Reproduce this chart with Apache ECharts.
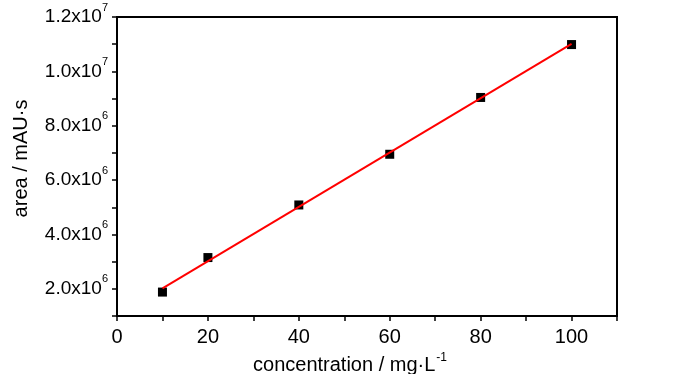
<!DOCTYPE html>
<html>
<head>
<meta charset="utf-8">
<script src="https://cdn.jsdelivr.net/npm/echarts@6/dist/echarts.min.js"></script>
<style>html,body{margin:0;padding:0;background:#fff}#c{width:700px;height:374px}</style>
</head>
<body>
<div id="c"></div>
<script>
// Measured calibration points
var concentration = [10, 20, 40, 60, 80, 100];
var area = [1.88e6, 3.15e6, 5.085e6, 6.95e6, 9.04e6, 1.0986e7];
// Linear fit line end points
var fitX = [10, 100];
var fitY = [2.02e6, 1.101e7];
var xTickLabels = ['0', '20', '40', '60', '80', '100'];
var yTickLabels = {2e6: ['2.0x10', '6'], 4e6: ['4.0x10', '6'], 6e6: ['6.0x10', '6'], 8e6: ['8.0x10', '6'], 1e7: ['1.0x10', '7'], 1.2e7: ['1.2x10', '7']};

var FONT = 'Liberation Sans, Arial, sans-serif';
var chart = echarts.init(document.getElementById('c'), null, {renderer: 'canvas'});
chart.setOption({
  animation: false,
  backgroundColor: '#fff',
  grid: {left: 117, right: 83, top: 17, bottom: 58, show: true, borderColor: '#000', borderWidth: 2,
         backgroundColor: 'transparent', containLabel: false, outerBoundsMode: 'none'},
  xAxis: {
    type: 'value', min: 0, max: 110, interval: 10,
    name: '{a|concentration / mg·L}{s|-1}',
    nameLocation: 'middle', nameGap: 35,
    nameTextStyle: {padding: [0, 34, 0, 0], rich: {
      a: {fontFamily: FONT, fontSize: 20, color: '#000'},
      s: {fontFamily: FONT, fontSize: 12, color: '#000', verticalAlign: 'top', padding: [0, 0, 16, 1]}
    }},
    axisLine: {show: true, lineStyle: {color: '#000', width: 2}},
    axisTick: {show: true, inside: false, length: 5, lineStyle: {color: '#000', width: 1.5}},
    splitLine: {show: false},
    axisLabel: {
      margin: 11, fontFamily: FONT, fontSize: 20, color: '#000',
      formatter: function (v) { return xTickLabels.indexOf(String(v)) >= 0 ? String(v) : ''; }
    }
  },
  yAxis: {
    type: 'value', min: 1e6, max: 1.2e7, interval: 1e6,
    name: 'area / mAU·s', nameLocation: 'middle', nameGap: 86, nameRotate: 90,
    nameTextStyle: {fontFamily: FONT, fontSize: 20, color: '#000', padding: [0, 0, 0, 16]},
    axisLine: {show: true, lineStyle: {color: '#000', width: 2}},
    axisTick: {show: true, inside: false, length: 5, lineStyle: {color: '#000', width: 1.5}},
    splitLine: {show: false},
    axisLabel: {
      margin: 9, color: '#000',
      formatter: function (v) {
        var t = yTickLabels[v];
        return t ? '{b|' + t[0] + '}{s|' + t[1] + '}' : '';
      },
      rich: {
        b: {fontFamily: FONT, fontSize: 19, color: '#000'},
        s: {fontFamily: FONT, fontSize: 11, color: '#000', verticalAlign: 'top', padding: [0, 0, 19, 0]}
      }
    }
  },
  series: [
    {
      type: 'scatter', symbol: 'rect', symbolSize: 9,
      itemStyle: {color: '#000', opacity: 1},
      data: concentration.map(function (x, i) { return [x, area[i]]; }),
      z: 2
    },
    {
      type: 'line', showSymbol: false, symbol: 'none',
      lineStyle: {color: '#ff0000', width: 2},
      data: fitX.map(function (x, i) { return [x, fitY[i]]; }),
      z: 3
    }
  ]
});
</script>
</body>
</html>
